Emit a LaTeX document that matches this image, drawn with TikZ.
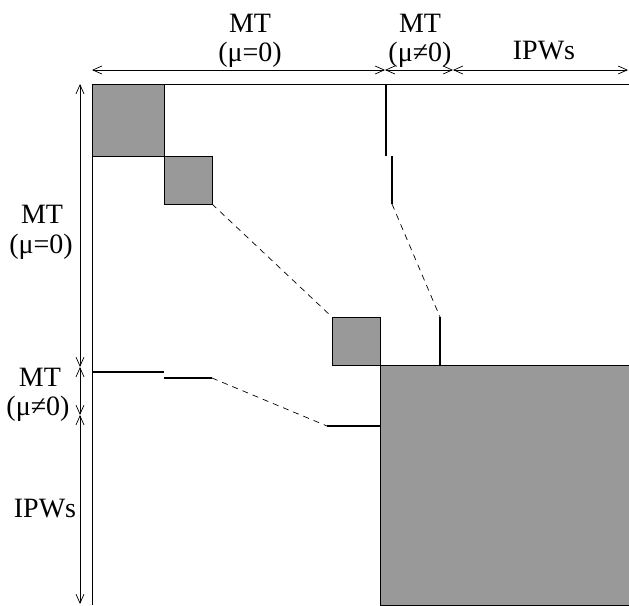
\documentclass[tikz,border=0pt]{standalone}
\usepackage{fontspec}
\setmainfont{Liberation Serif}
\usetikzlibrary{arrows.meta}
\definecolor{blk}{HTML}{999999}
\begin{document}
\begin{tikzpicture}[x=1pt,y=-1pt,
 lbl/.style={font=\fontsize{28}{32}\selectfont, inner sep=0pt, anchor=base},
 blockbox/.style={draw=black, fill=blk, line width=0.8pt, inner sep=0pt, outer sep=0pt, anchor=north west},
 dim/.style={line width=0.7pt, {Straight Barb[length=9pt,width=8pt]}-{Straight Barb[length=9pt,width=8pt]}},
 seg/.style={line width=1.8pt},
 dsh/.style={line width=0.7pt, dash pattern=on 6pt off 5pt},
 frame/.style={line width=0.8pt}]
\useasboundingbox (0,0) rectangle (629,605);
% blocks
\node[blockbox, minimum width=72pt, minimum height=72pt] (b1) at (92,84) {};
\node[blockbox, minimum width=48pt, minimum height=48pt] (b2) at (164,156) {};
\node[blockbox, minimum width=48pt, minimum height=48pt] (b3) at (332,317) {};
\node[blockbox, minimum width=249pt, minimum height=240pt] (big) at (380,365) {};
% frame
\coordinate (fTR) at (629,84);
\coordinate (fTL) at (92,84);
\coordinate (fBL) at (92,605);
\draw[frame] (fTR) -- (fTL) -- (fBL);
% dashed between blocks
\draw[dsh] (b2.south east) -- (b3.north west);
% vertical segments
\coordinate (v1a) at (386,84);
\coordinate (v1b) at (386,156);
\coordinate (v2a) at (392,156);
\coordinate (v2b) at (392,204);
\coordinate (v3a) at (440,317);
\coordinate (v3b) at (440,365);
\draw[seg] (v1a) -- (v1b);
\draw[seg] (v2a) -- (v2b);
\draw[dsh] (v2b) -- (v3a);
\draw[seg] (v3a) -- (v3b);
% horizontal segments
\coordinate (h1a) at (92,372);
\coordinate (h1b) at (164,372);
\coordinate (h2a) at (164,378);
\coordinate (h2b) at (212,378);
\coordinate (h3a) at (327,426);
\coordinate (h3b) at (380,426);
\draw[seg] (h1a) -- (h1b);
\draw[seg] (h2a) -- (h2b);
\draw[dsh] (h2b) -- (h3a);
\draw[seg] (h3a) -- (h3b);
% top dimension arrows
\coordinate (t0) at (92,70);
\coordinate (t1) at (385,70);
\coordinate (t2) at (453,70);
\coordinate (t3) at (628,70);
\draw[dim] (t0) -- (t1);
\draw[dim] (t1) -- (t2);
\draw[dim] (t2) -- (t3);
% left dimension arrows
\coordinate (l0) at (80,84);
\coordinate (l1) at (80,367);
\coordinate (l2) at (80,415);
\coordinate (l3) at (80,604);
\draw[dim] (l0) -- (l1);
\draw[dim] (l1) -- (l2);
\draw[dim] (l2) -- (l3);
% labels
\node[lbl] (ta1) at (250,32) {MT};
\node[lbl] (ta2) at (250,61) {(μ=0)};
\node[lbl] (tb1) at (420,32) {MT};
\node[lbl] (tb2) at (420,61) {(μ≠0)};
\node[lbl] (tc) at (544,59) {IPWs};
\node[lbl] (la1) at (42,223) {MT};
\node[lbl] (la2) at (41,253) {(μ=0)};
\node[lbl] (lb1) at (40,386) {MT};
\node[lbl] (lb2) at (38,415) {(μ≠0)};
\node[lbl] (lc) at (45,517) {IPWs};
\end{tikzpicture}
\end{document}
